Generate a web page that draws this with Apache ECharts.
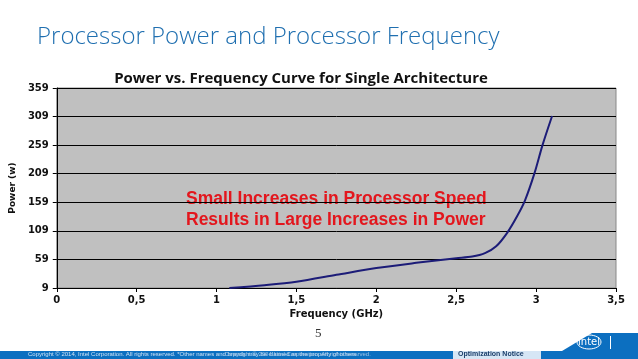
<!DOCTYPE html>
<html><head><meta charset="utf-8">
<script src="https://cdn.jsdelivr.net/npm/echarts@6/dist/echarts.min.js"></script>
<style>html,body{margin:0;padding:0;background:#fff}#c{width:638px;height:359px}</style>
</head><body><div id="c"></div>
<script>
const frequency = [1.08, 1.3, 1.5, 1.75, 2.0, 2.25, 2.5, 2.6, 2.68, 2.75, 2.82, 2.88, 2.93, 2.99, 3.04, 3.10];
const power = [9, 14, 20, 32, 44, 53, 61, 64, 70, 82, 106, 134, 162, 210, 259, 310];
const yTicks = [9, 59, 109, 159, 209, 259, 309, 359];
const xTicks = ['0', '0,5', '1', '1,5', '2', '2,5', '3', '3,5'];

const chart = echarts.init(document.getElementById('c'), null, {renderer: 'canvas'});
chart.setOption({
  animation: false,
  title: [
    {text: 'Processor Power and Processor Frequency', left: 32, top: 20,
     textStyle: {fontFamily: 'Open Sans', fontWeight: 300, fontSize: 24, color: '#1f6fb0'}},
    {text: 'Power vs. Frequency Curve for Single Architecture', left: 296, top: 66, textAlign: 'center',
     textStyle: {fontFamily: 'Open Sans', fontWeight: 'bold', fontSize: 15, color: '#111'}}
  ],
  grid: {left: 54, right: 22, top: 88, bottom: 71, show: true, backgroundColor: '#c0c0c0', borderColor: '#888', borderWidth: 1},
  xAxis: {
    type: 'value', min: 0, max: 3.5, interval: 0.5,
    name: 'Frequency (GHz)', nameLocation: 'middle', nameGap: 16,
    nameTextStyle: {fontFamily: 'DejaVu Sans', fontWeight: 'bold', fontSize: 10, color: '#111'},
    axisLine: {show: true, lineStyle: {color: '#000', width: 1}},
    axisTick: {show: true, length: 4, lineStyle: {color: '#000'}},
    axisLabel: {fontFamily: 'DejaVu Sans', fontWeight: 'bold', fontSize: 10, color: '#111', margin: 7,
      formatter: v => xTicks[Math.round(v / 0.5)]},
    splitLine: {show: false}
  },
  yAxis: {
    type: 'value', min: 9, max: 359, interval: 50,
    name: 'Power (w)', nameLocation: 'middle', nameGap: 34, nameRotate: 90,
    nameTextStyle: {fontFamily: 'DejaVu Sans', fontWeight: 'bold', fontSize: 9, color: '#111'},
    axisLine: {show: true, lineStyle: {color: '#000', width: 1}},
    axisTick: {show: true, length: 4, lineStyle: {color: '#000'}},
    axisLabel: {fontFamily: 'DejaVu Sans', fontWeight: 'bold', fontSize: 10, color: '#111', margin: 8,
      formatter: v => String(yTicks[Math.round((v - 9) / 50)])},
    splitLine: {show: true, lineStyle: {color: '#000', width: 1}}
  },
  series: [{
    type: 'line', data: frequency.map((f, i) => [f, power[i]]),
    smooth: 0.3, showSymbol: false,
    lineStyle: {color: '#1c1c78', width: 2}
  }],
  graphic: [
    {type: 'text', left: 186, top: 189, style: {text: 'Small Increases in Processor Speed\nResults in Large Increases in Power',
      font: 'bold 17.5px "Liberation Sans"', fill: '#e3161d', lineHeight: 21}},
    {type: 'text', left: 315, top: 327, style: {text: '5', font: '13px "Liberation Serif"', fill: '#333'}},
    {type: 'rect', shape: {x: 0, y: 351, width: 638, height: 8}, style: {fill: '#0c6fc0'}},
    {type: 'polygon', shape: {points: [[562, 351], [592, 333], [638, 333], [638, 351]]}, style: {fill: '#0c6fc0'}},
    {type: 'text', left: 28, top: 351, style: {text: 'Copyright © 2014, Intel Corporation. All rights reserved. *Other names and brands may be claimed as the property of others.',
      font: '6px "Liberation Sans"', fill: '#cfe3f5'}},
    {type: 'text', left: 225, top: 351, style: {text: 'Copyright © 2004 Intel Corporation. All rights reserved.',
      font: '6px "Liberation Sans"', fill: '#9fc4e6'}},
    {type: 'rect', shape: {x: 453, y: 351, width: 88, height: 8}, style: {fill: '#d6e6f5'}},
    {type: 'text', left: 458, top: 351, style: {text: 'Optimization Notice', font: 'bold 7px "Liberation Sans"', fill: '#1b3f6b'}},
    {type: 'ellipse', shape: {cx: 589, cy: 342, rx: 12, ry: 7}, style: {fill: 'none', stroke: '#fff', lineWidth: 1}},
    {type: 'text', x: 589, y: 342, style: {text: 'intel', font: '10px "DejaVu Sans"', fill: '#fff', align: 'center', verticalAlign: 'middle'}},
    {type: 'rect', shape: {x: 610, y: 336, width: 1, height: 13}, style: {fill: '#fff'}}
  ]
});
</script></body></html>
